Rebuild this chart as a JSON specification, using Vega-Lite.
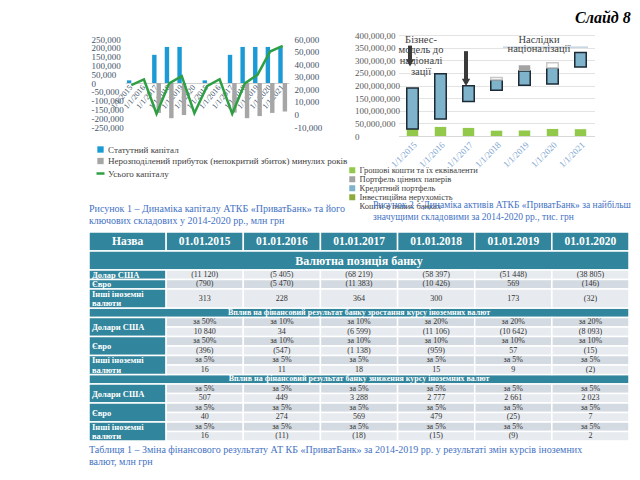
{
"$schema": "https://vega.github.io/schema/vega-lite/v6.json",
"background": "white",
"padding": {"left": 88, "top": 9, "right": 0, "bottom": 0},
"config": {"font": "Liberation Serif", "view": {"stroke": null}, "title": {"font": "Liberation Serif"}},
"title": {"text": "Слайд 8", "anchor": "end", "frame": "bounds", "orient": "top", "offset": 5.5, "fontSize": 16, "fontStyle": "italic", "fontWeight": "bold", "color": "#000000"},
"datasets": {
"L": [
{"k":"a1/1/2015","s":"Статутний капітал","v":15000},
{"k":"a1/1/2017","s":"Статутний капітал","v":160000},
{"k":"a1/1/2017","s":"Нерозподілений прибуток (непокритий збиток) минулих років","v":-170000},
{"k":"a1/1/2018","s":"Статутний капітал","v":205000},
{"k":"a1/1/2018","s":"Нерозподілений прибуток (непокритий збиток) минулих років","v":-200000},
{"k":"a1/1/2019","s":"Статутний капітал","v":205000},
{"k":"a1/1/2019","s":"Нерозподілений прибуток (непокритий збиток) минулих років","v":-182000},
{"k":"b1/1/2015","s":"Статутний капітал","v":15000},
{"k":"b1/1/2017","s":"Статутний капітал","v":160000},
{"k":"b1/1/2017","s":"Нерозподілений прибуток (непокритий збиток) минулих років","v":-168000},
{"k":"b1/1/2018","s":"Статутний капітал","v":205000},
{"k":"b1/1/2018","s":"Нерозподілений прибуток (непокритий збиток) минулих років","v":-200000},
{"k":"b1/1/2019","s":"Статутний капітал","v":205000},
{"k":"b1/1/2019","s":"Нерозподілений прибуток (непокритий збиток) минулих років","v":-188000},
{"k":"b1/1/2020","s":"Статутний капітал","v":205000},
{"k":"b1/1/2020","s":"Нерозподілений прибуток (непокритий збиток) минулих років","v":-170000},
{"k":"b1/1/2021","s":"Статутний капітал","v":205000},
{"k":"b1/1/2021","s":"Нерозподілений прибуток (непокритий збиток) минулих років","v":-162000},
{"k":"a1/1/2015","s":"Усього капіталу","v":23300},
{"k":"a1/1/2016","s":"Усього капіталу","v":27800},
{"k":"a1/1/2017","s":"Усього капіталу","v":500},
{"k":"a1/1/2018","s":"Усього капіталу","v":24700},
{"k":"a1/1/2019","s":"Усього капіталу","v":30500},
{"k":"a1/1/2020","s":"Усього капіталу","v":1000},
{"k":"b1/1/2015","s":"Усього капіталу","v":22500},
{"k":"b1/1/2016","s":"Усього капіталу","v":28000},
{"k":"b1/1/2017","s":"Усього капіталу","v":500},
{"k":"b1/1/2018","s":"Усього капіталу","v":24700},
{"k":"b1/1/2019","s":"Усього капіталу","v":31500},
{"k":"b1/1/2020","s":"Усього капіталу","v":50000},
{"k":"b1/1/2021","s":"Усього капіталу","v":54500}
],
"R": [
{"d":"1/1/2015","s":"Грошові кошти та їх еквіваленти","lo":0,"hi":28000000},
{"d":"1/1/2015","s":"Кредитний портфель","lo":28000000,"hi":190000000},
{"d":"1/1/2016","s":"Грошові кошти та їх еквіваленти","lo":0,"hi":36000000},
{"d":"1/1/2016","s":"Кредитний портфель","lo":67000000,"hi":247000000},
{"d":"1/1/2017","s":"Грошові кошти та їх еквіваленти","lo":0,"hi":32000000},
{"d":"1/1/2017","s":"Кредитний портфель","lo":137000000,"hi":199000000},
{"d":"1/1/2018","s":"Грошові кошти та їх еквіваленти","lo":0,"hi":21000000},
{"d":"1/1/2018","s":"Кредитний портфель","lo":181000000,"hi":223000000},
{"d":"1/1/2018","s":"Кошти в інших банках","lo":223000000,"hi":232000000},
{"d":"1/1/2019","s":"Грошові кошти та їх еквіваленти","lo":0,"hi":22000000},
{"d":"1/1/2019","s":"Кредитний портфель","lo":201000000,"hi":257000000},
{"d":"1/1/2019","s":"Портфель цінних паперів","lo":257000000,"hi":280000000},
{"d":"1/1/2020","s":"Грошові кошти та їх еквіваленти","lo":0,"hi":28000000},
{"d":"1/1/2020","s":"Кредитний портфель","lo":206000000,"hi":270000000},
{"d":"1/1/2020","s":"Кошти в інших банках","lo":270000000,"hi":290000000},
{"d":"1/1/2021","s":"Грошові кошти та їх еквіваленти","lo":0,"hi":27000000},
{"d":"1/1/2021","s":"Кредитний портфель","lo":273000000,"hi":331000000}
],
"AR": [
{"d":"1/1/2015","lo":358000000,"hi":290000000},
{"d":"1/1/2017","lo":336000000,"hi":212000000}
],
"AH": [
{"d":"1/1/2015","lo":290000000},
{"d":"1/1/2017","lo":212000000}
],
"AN": [
{"d":"1/1/2015","lo":401000000,"t":"Бізнес-\nмодель до\nнаціоналі\nзації"},
{"d":"1/1/2020","lo":401000000,"t":"Наслідки\nнаціоналізації"}
],
"BR": [
{"d":"1/1/2018","d2":"1/1/2021","lo":352000000}
],
"hdr": [
{"c":"Назва","r":"h1","r2":"h2","t":"Назва"},
{"c":"01.01.2015","r":"h1","r2":"h2","t":"01.01.2015"},
{"c":"01.01.2016","r":"h1","r2":"h2","t":"01.01.2016"},
{"c":"01.01.2017","r":"h1","r2":"h2","t":"01.01.2017"},
{"c":"01.01.2018","r":"h1","r2":"h2","t":"01.01.2018"},
{"c":"01.01.2019","r":"h1","r2":"h2","t":"01.01.2019"},
{"c":"01.01.2020","r":"h1","r2":"h2","t":"01.01.2020"}
],
"sec": [
{"r":"s1a","r2":"s1b","t":"Валютна позиція банку"},
{"r":"s2","r2":"s2","t":"Вплив на фінансовий результат банку зростання курсу іноземних валют"},
{"r":"s3","r2":"s3","t":"Вплив на фінансовий результат банку зниження курсу іноземних валют"}
],
"lab": [
{"c":"Назва","r":"usd","r2":"usd","t":"Долар США"},
{"c":"Назва","r":"eur","r2":"eur","t":"Євро"},
{"c":"Назва","r":"oa","r2":"ob","t":"Інші            іноземні\nвалюти"},
{"c":"Назва","r":"u2a","r2":"u2b","t":"Долари США"},
{"c":"Назва","r":"e2a","r2":"e2b","t":"Євро"},
{"c":"Назва","r":"o2a","r2":"o2b","t":"Інші            іноземні\nвалюти"},
{"c":"Назва","r":"u3a","r2":"u3b","t":"Долари США"},
{"c":"Назва","r":"e3a","r2":"e3b","t":"Євро"},
{"c":"Назва","r":"o3a","r2":"o3b","t":"Інші            іноземні\nвалюти"}
],
"cel": [
{"c":"01.01.2015","r":"usd","r2":"usd","t":"(11 120)"},
{"c":"01.01.2016","r":"usd","r2":"usd","t":"(5 405)"},
{"c":"01.01.2017","r":"usd","r2":"usd","t":"(68 219)"},
{"c":"01.01.2018","r":"usd","r2":"usd","t":"(58 397)"},
{"c":"01.01.2019","r":"usd","r2":"usd","t":"(51 448)"},
{"c":"01.01.2020","r":"usd","r2":"usd","t":"(38 805)"},
{"c":"01.01.2015","r":"eur","r2":"eur","t":"(790)"},
{"c":"01.01.2016","r":"eur","r2":"eur","t":"(5 470)"},
{"c":"01.01.2017","r":"eur","r2":"eur","t":"(11 383)"},
{"c":"01.01.2018","r":"eur","r2":"eur","t":"(10 426)"},
{"c":"01.01.2019","r":"eur","r2":"eur","t":"569"},
{"c":"01.01.2020","r":"eur","r2":"eur","t":"(146)"},
{"c":"01.01.2015","r":"oa","r2":"ob","t":"313"},
{"c":"01.01.2016","r":"oa","r2":"ob","t":"228"},
{"c":"01.01.2017","r":"oa","r2":"ob","t":"364"},
{"c":"01.01.2018","r":"oa","r2":"ob","t":"300"},
{"c":"01.01.2019","r":"oa","r2":"ob","t":"173"},
{"c":"01.01.2020","r":"oa","r2":"ob","t":"(32)"},
{"c":"01.01.2015","r":"u2a","r2":"u2a","t":"за 50%"},
{"c":"01.01.2016","r":"u2a","r2":"u2a","t":"за 10%"},
{"c":"01.01.2017","r":"u2a","r2":"u2a","t":"за 10%"},
{"c":"01.01.2018","r":"u2a","r2":"u2a","t":"за 20%"},
{"c":"01.01.2019","r":"u2a","r2":"u2a","t":"за 20%"},
{"c":"01.01.2020","r":"u2a","r2":"u2a","t":"за 20%"},
{"c":"01.01.2015","r":"u2b","r2":"u2b","t":"10 840"},
{"c":"01.01.2016","r":"u2b","r2":"u2b","t":"34"},
{"c":"01.01.2017","r":"u2b","r2":"u2b","t":"(6 599)"},
{"c":"01.01.2018","r":"u2b","r2":"u2b","t":"(11 106)"},
{"c":"01.01.2019","r":"u2b","r2":"u2b","t":"(10 642)"},
{"c":"01.01.2020","r":"u2b","r2":"u2b","t":"(8 093)"},
{"c":"01.01.2015","r":"e2a","r2":"e2a","t":"за 50%"},
{"c":"01.01.2016","r":"e2a","r2":"e2a","t":"за 10%"},
{"c":"01.01.2017","r":"e2a","r2":"e2a","t":"за 10%"},
{"c":"01.01.2018","r":"e2a","r2":"e2a","t":"за 10%"},
{"c":"01.01.2019","r":"e2a","r2":"e2a","t":"за 10%"},
{"c":"01.01.2020","r":"e2a","r2":"e2a","t":"за 10%"},
{"c":"01.01.2015","r":"e2b","r2":"e2b","t":"(396)"},
{"c":"01.01.2016","r":"e2b","r2":"e2b","t":"(547)"},
{"c":"01.01.2017","r":"e2b","r2":"e2b","t":"(1 138)"},
{"c":"01.01.2018","r":"e2b","r2":"e2b","t":"(959)"},
{"c":"01.01.2019","r":"e2b","r2":"e2b","t":"57"},
{"c":"01.01.2020","r":"e2b","r2":"e2b","t":"(15)"},
{"c":"01.01.2015","r":"o2a","r2":"o2a","t":"за 5%"},
{"c":"01.01.2016","r":"o2a","r2":"o2a","t":"за 5%"},
{"c":"01.01.2017","r":"o2a","r2":"o2a","t":"за 5%"},
{"c":"01.01.2018","r":"o2a","r2":"o2a","t":"за 5%"},
{"c":"01.01.2019","r":"o2a","r2":"o2a","t":"за 5%"},
{"c":"01.01.2020","r":"o2a","r2":"o2a","t":"за 5%"},
{"c":"01.01.2015","r":"o2b","r2":"o2b","t":"16"},
{"c":"01.01.2016","r":"o2b","r2":"o2b","t":"11"},
{"c":"01.01.2017","r":"o2b","r2":"o2b","t":"18"},
{"c":"01.01.2018","r":"o2b","r2":"o2b","t":"15"},
{"c":"01.01.2019","r":"o2b","r2":"o2b","t":"9"},
{"c":"01.01.2020","r":"o2b","r2":"o2b","t":"(2)"},
{"c":"01.01.2015","r":"u3a","r2":"u3a","t":"за 5%"},
{"c":"01.01.2016","r":"u3a","r2":"u3a","t":"за 5%"},
{"c":"01.01.2017","r":"u3a","r2":"u3a","t":"за 5%"},
{"c":"01.01.2018","r":"u3a","r2":"u3a","t":"за 5%"},
{"c":"01.01.2019","r":"u3a","r2":"u3a","t":"за 5%"},
{"c":"01.01.2020","r":"u3a","r2":"u3a","t":"за 5%"},
{"c":"01.01.2015","r":"u3b","r2":"u3b","t":"507"},
{"c":"01.01.2016","r":"u3b","r2":"u3b","t":"449"},
{"c":"01.01.2017","r":"u3b","r2":"u3b","t":"3 288"},
{"c":"01.01.2018","r":"u3b","r2":"u3b","t":"2 777"},
{"c":"01.01.2019","r":"u3b","r2":"u3b","t":"2 661"},
{"c":"01.01.2020","r":"u3b","r2":"u3b","t":"2 023"},
{"c":"01.01.2015","r":"e3a","r2":"e3a","t":"за 5%"},
{"c":"01.01.2016","r":"e3a","r2":"e3a","t":"за 5%"},
{"c":"01.01.2017","r":"e3a","r2":"e3a","t":"за 5%"},
{"c":"01.01.2018","r":"e3a","r2":"e3a","t":"за 5%"},
{"c":"01.01.2019","r":"e3a","r2":"e3a","t":"за 5%"},
{"c":"01.01.2020","r":"e3a","r2":"e3a","t":"за 5%"},
{"c":"01.01.2015","r":"e3b","r2":"e3b","t":"40"},
{"c":"01.01.2016","r":"e3b","r2":"e3b","t":"274"},
{"c":"01.01.2017","r":"e3b","r2":"e3b","t":"569"},
{"c":"01.01.2018","r":"e3b","r2":"e3b","t":"479"},
{"c":"01.01.2019","r":"e3b","r2":"e3b","t":"(25)"},
{"c":"01.01.2020","r":"e3b","r2":"e3b","t":"7"},
{"c":"01.01.2015","r":"o3a","r2":"o3a","t":"за 5%"},
{"c":"01.01.2016","r":"o3a","r2":"o3a","t":"за 5%"},
{"c":"01.01.2017","r":"o3a","r2":"o3a","t":"за 5%"},
{"c":"01.01.2018","r":"o3a","r2":"o3a","t":"за 5%"},
{"c":"01.01.2019","r":"o3a","r2":"o3a","t":"за 5%"},
{"c":"01.01.2020","r":"o3a","r2":"o3a","t":"за 5%"},
{"c":"01.01.2015","r":"o3b","r2":"o3b","t":"16"},
{"c":"01.01.2016","r":"o3b","r2":"o3b","t":"(11)"},
{"c":"01.01.2017","r":"o3b","r2":"o3b","t":"(18)"},
{"c":"01.01.2018","r":"o3b","r2":"o3b","t":"(15)"},
{"c":"01.01.2019","r":"o3b","r2":"o3b","t":"(9)"},
{"c":"01.01.2020","r":"o3b","r2":"o3b","t":"2"}
]
},
"bounds": "flush",
"spacing": 197,
"resolve": {"scale": {"color": "independent"}, "legend": {"color": "independent"}},
"vconcat": [
{
"bounds": "flush",
"spacing": 109.5,
"resolve": {"scale": {"color": "independent", "stroke": "independent"}, "legend": {"color": "independent"}},
"hconcat": [
{
"width": 200, "height": 101,
"data": {"name": "L"},
"title": {"text": ["Рисунок 1 – Динаміка капіталу АТКБ «ПриватБанк» та його", "ключових складових у 2014-2020 рр., млн грн"], "orient": "bottom", "anchor": "start", "frame": "group", "offset": 25, "fontSize": 10, "fontWeight": "normal", "color": "#4472c4", "lineHeight": 11.5},
"encoding": {
"x": {"field": "k", "type": "nominal", "scale": {"domain": ["a1/1/2015","a1/1/2016","a1/1/2017","a1/1/2018","a1/1/2019","a1/1/2020","b1/1/2015","b1/1/2016","b1/1/2017","b1/1/2018","b1/1/2019","b1/1/2020","b1/1/2021"], "range": [36, 200], "paddingInner": 0.3, "paddingOuter": 0.15}, "axis": {"title": null, "labelExpr": "substring(datum.value, 1)", "labelAngle": -50, "labelAlign": "right", "labelBaseline": "middle", "offset": -53, "ticks": false, "domainColor": "#d0d0d0", "labelFontSize": 8, "labelColor": "#44546a", "labelPadding": 3, "labelOverlap": false}}
},
"layer": [
{
"transform": [{"filter": "datum.s != 'Усього капіталу'"}],
"mark": {"type": "bar"},
"encoding": {
"xOffset": {"field": "s", "type": "nominal", "scale": {"domain": ["Статутний капітал", "Нерозподілений прибуток (непокритий збиток) минулих років"]}},
"y": {"field": "v", "type": "quantitative", "scale": {"domain": [-250000, 250000], "range": [92, 4], "nice": false, "zero": false}, "axis": {"orient": "left", "offset": -36, "values": [-250000,-200000,-150000,-100000,-50000,0,50000,100000,150000,200000,250000], "labelExpr": "replace(format(datum.value, ','), '−', '-')", "labelOverlap": false, "grid": false, "domain": false, "ticks": false, "labelFontSize": 9, "labelColor": "#44546a", "labelAlign": "left", "labelPadding": 34, "title": null}},
"color": {"field": "s", "type": "nominal", "scale": {"domain": ["Статутний капітал", "Нерозподілений прибуток (непокритий збиток) минулих років", "Усього капіталу"], "range": ["#1b9ad6", "#a6a6a6", "#2ea043"]},
"legend": {"orient": "none", "legendX": 7, "legendY": 110, "title": null, "labelFontSize": 9, "labelColor": "#404040", "labelLimit": 300, "rowPadding": 1.5, "labelOffset": 3, "symbolType": "square", "symbolSize": 40, "symbolStrokeWidth": 0,
"encode": {"symbols": {"update": {
"shape": {"signal": "datum.value == 'Усього капіталу' ? 'stroke' : 'square'"},
"fill": {"signal": "datum.value == 'Статутний капітал' ? '#1b9ad6' : datum.value == 'Усього капіталу' ? 'transparent' : '#a6a6a6'"},
"stroke": {"signal": "datum.value == 'Усього капіталу' ? '#2ea043' : 'transparent'"},
"strokeWidth": {"signal": "datum.value == 'Усього капіталу' ? 2.5 : 0"},
"size": {"signal": "datum.value == 'Усього капіталу' ? 64 : 40"}}}}}}
}
},
{
"transform": [{"filter": "datum.s == 'Усього капіталу'"}],
"mark": {"type": "line", "strokeWidth": 2.5},
"encoding": {
"y": {"field": "v", "type": "quantitative", "scale": {"domain": [-10000, 60000], "range": [92, 4], "nice": false, "zero": false}, "axis": {"orient": "right", "values": [-10000,0,10000,20000,30000,40000,50000,60000], "labelExpr": "replace(format(datum.value, ','), '−', '-')", "labelOverlap": false, "grid": false, "domain": false, "ticks": false, "labelFontSize": 9, "labelColor": "#44546a", "labelPadding": 5, "title": null}},
"color": {"field": "s", "type": "nominal", "scale": {"domain": ["Статутний капітал", "Нерозподілений прибуток (непокритий збиток) минулих років", "Усього капіталу"], "range": ["#1b9ad6", "#a6a6a6", "#2ea043"]}, "legend": null}
}
}
],
"resolve": {"scale": {"y": "independent"}}
},
{
"width": 196, "height": 101,
"title": {"text": ["Рисунок 2 – Динаміка активів АТКБ «ПриватБанк» за найбільш", "значущими складовими за 2014-2020 рр., тис. грн"], "orient": "bottom", "anchor": "start", "frame": "group", "dx": -25.5, "offset": -11, "fontSize": 9.5, "fontWeight": "normal", "color": "#4472c4", "lineHeight": 11.5},
"encoding": {
"x": {"field": "d", "type": "nominal", "scale": {"domain": ["1/1/2015","1/1/2016","1/1/2017","1/1/2018","1/1/2019","1/1/2020","1/1/2021"], "paddingInner": 0.59, "paddingOuter": 0.295}, "axis": {"title": null, "labelAngle": -45, "labelFontSize": 9, "labelColor": "#7fa7d1", "ticks": false, "domainColor": "#d9d9d9", "labelPadding": 4}},
"y": {"field": "lo", "type": "quantitative", "scale": {"domain": [0, 400000000], "nice": false}, "axis": {"title": null, "values": [0,50000000,100000000,150000000,200000000,250000000,300000000,350000000,400000000], "labelExpr": "datum.value >= 250000000 ? slice(format(datum.value, ','), 0, -1) : format(datum.value, ',')", "labelOverlap": false, "grid": true, "gridColor": "#e3e3e3", "domain": false, "ticks": false, "labelFontSize": 9, "labelColor": "#595959", "labelAlign": "left", "labelPadding": 44}}
},
"layer": [
{
"data": {"name": "R"},
"mark": {"type": "bar", "strokeWidth": 1.5},
"encoding": {
"y2": {"field": "hi"},
"color": {"field": "s", "type": "nominal", "scale": {"domain": ["Грошові кошти та їх еквіваленти", "Портфель цінних паперів", "Кредитний портфель", "Інвестиційна нерухомість", "Кошти в інших банках"], "range": ["#92c94a", "#a3a3a3", "#7fb2cb", "#8faa3c", "#ffffff"]},
"legend": {"orient": "none", "legendX": -50.5, "legendY": 131, "title": null, "labelFontSize": 8.5, "labelColor": "#404040", "labelLimit": 300, "rowPadding": -1, "labelOffset": 3, "symbolType": "square", "symbolSize": 36,
"encode": {"symbols": {"update": {
"stroke": {"signal": "datum.value == 'Кредитний портфель' || datum.value == 'Інвестиційна нерухомість' ? '#1d2b36' : datum.value == 'Кошти в інших банках' ? '#bbbbbb' : 'transparent'"},
"strokeWidth": {"value": 1.5},
"opacity": {"signal": "datum.value == 'Портфель цінних паперів' ? 0 : 1"}}}}}},
"stroke": {"condition": [{"test": "datum.s == 'Кредитний портфель'", "value": "#1d2b36"}, {"test": "datum.s == 'Кошти в інших банках'", "value": "#c8c8c8"}], "value": null}
}
},
{
"data": {"name": "AR"},
"mark": {"type": "rule", "strokeWidth": 4, "color": "#3a3a3a", "xOffset": -2.5},
"encoding": {
"y2": {"field": "hi"}
}
},
{
"data": {"name": "AH"},
"mark": {"type": "point", "shape": "triangle-down", "filled": true, "size": 70, "color": "#3a3a3a", "opacity": 1, "xOffset": -2.5},
"encoding": {}
},
{
"data": {"name": "BR"},
"mark": {"type": "rule", "color": "#a9bccf", "strokeWidth": 1, "xOffset": 6.5, "x2Offset": 7.5},
"encoding": {
"x2": {"field": "d2", "bandPosition": 0.5}
}
},
{
"data": {"name": "AN"},
"transform": [{"filter": "datum.d == '1/1/2015'"}],
"mark": {"type": "text", "fontSize": 10.5, "color": "#404040", "lineBreak": "\n", "lineHeight": 10.7, "baseline": "top", "align": "center", "dx": 8.5},
"encoding": {
"text": {"field": "t"}
}
},
{
"data": {"name": "AN"},
"transform": [{"filter": "datum.d == '1/1/2020'"}],
"mark": {"type": "text", "fontSize": 10.5, "color": "#404040", "lineBreak": "\n", "lineHeight": 9.5, "baseline": "top", "align": "center", "dx": -13.5},
"encoding": {
"text": {"field": "t"}
}
}
]
}
]
},
{
"width": 540, "height": 209,
"title": {"text": ["Таблиця 1 – Зміна фінансового результату АТ КБ «ПриватБанк» за 2014-2019 рр. у результаті змін курсів іноземних", "валют, млн грн"], "orient": "bottom", "anchor": "start", "frame": "group", "offset": 3, "fontSize": 10, "fontWeight": "normal", "color": "#4472c4", "lineHeight": 12},
"layer": [
{
"data": {"name": "hdr"},
"mark": {"type": "rect", "color": "#31859c", "stroke": "white", "strokeWidth": 1.5},
"encoding": {
"x": {"field": "c", "type": "nominal", "scale": {"domain": ["Назва","01.01.2015","01.01.2016","01.01.2017","01.01.2018","01.01.2019","01.01.2020"], "paddingInner": 0, "paddingOuter": 0}, "axis": null},
"y": {"field": "r", "type": "nominal", "bandPosition": 0, "scale": {"domain": ["h1","h2","s1a","s1b","usd","eur","oa","ob","s2","u2a","u2b","e2a","e2b","o2a","o2b","s3","u3a","u3b","e3a","e3b","o3a","o3b"], "paddingInner": 0, "paddingOuter": 0}, "axis": null},
"y2": {"field": "r2", "bandPosition": 1}
}
},
{
"data": {"name": "sec"},
"mark": {"type": "rect", "color": "#31859c", "stroke": "white", "strokeWidth": 1.5},
"encoding": {
"y": {"field": "r", "type": "nominal", "bandPosition": 0, "scale": {"domain": ["h1","h2","s1a","s1b","usd","eur","oa","ob","s2","u2a","u2b","e2a","e2b","o2a","o2b","s3","u3a","u3b","e3a","e3b","o3a","o3b"], "paddingInner": 0, "paddingOuter": 0}, "axis": null},
"y2": {"field": "r2", "bandPosition": 1}
}
},
{
"data": {"name": "lab"},
"mark": {"type": "rect", "color": "#31859c", "stroke": "white", "strokeWidth": 1.5},
"encoding": {
"x": {"field": "c", "type": "nominal", "scale": {"domain": ["Назва","01.01.2015","01.01.2016","01.01.2017","01.01.2018","01.01.2019","01.01.2020"], "paddingInner": 0, "paddingOuter": 0}, "axis": null},
"y": {"field": "r", "type": "nominal", "bandPosition": 0, "scale": {"domain": ["h1","h2","s1a","s1b","usd","eur","oa","ob","s2","u2a","u2b","e2a","e2b","o2a","o2b","s3","u3a","u3b","e3a","e3b","o3a","o3b"], "paddingInner": 0, "paddingOuter": 0}, "axis": null},
"y2": {"field": "r2", "bandPosition": 1}
}
},
{
"data": {"name": "cel"},
"mark": {"type": "rect", "stroke": "white", "strokeWidth": 1.5},
"encoding": {
"x": {"field": "c", "type": "nominal", "scale": {"domain": ["Назва","01.01.2015","01.01.2016","01.01.2017","01.01.2018","01.01.2019","01.01.2020"], "paddingInner": 0, "paddingOuter": 0}, "axis": null},
"y": {"field": "r", "type": "nominal", "bandPosition": 0, "scale": {"domain": ["h1","h2","s1a","s1b","usd","eur","oa","ob","s2","u2a","u2b","e2a","e2b","o2a","o2b","s3","u3a","u3b","e3a","e3b","o3a","o3b"], "paddingInner": 0, "paddingOuter": 0}, "axis": null},
"y2": {"field": "r2", "bandPosition": 1},
"color": {"condition": {"test": "indexof(['eur','u2a','e2a','o2a','u3a','e3a','o3a'], datum.r) >= 0", "value": "#d3dae1"}, "value": "#e7ebef"}
}
},
{
"data": {"name": "hdr"},
"mark": {"type": "text", "fontSize": 11.5, "fontWeight": "bold", "color": "white", "baseline": "middle"},
"encoding": {
"x": {"field": "c", "type": "nominal", "scale": {"domain": ["Назва","01.01.2015","01.01.2016","01.01.2017","01.01.2018","01.01.2019","01.01.2020"], "paddingInner": 0, "paddingOuter": 0}, "axis": null},
"y": {"field": "r", "type": "nominal", "bandPosition": 1, "scale": {"domain": ["h1","h2","s1a","s1b","usd","eur","oa","ob","s2","u2a","u2b","e2a","e2b","o2a","o2b","s3","u3a","u3b","e3a","e3b","o3a","o3b"], "paddingInner": 0, "paddingOuter": 0}, "axis": null},
"text": {"field": "t"}
}
},
{
"data": {"name": "sec"},
"transform": [{"filter": "datum.r == 's1a'"}],
"mark": {"type": "text", "fontSize": 12, "fontWeight": "bold", "color": "white", "baseline": "middle"},
"encoding": {
"y": {"field": "r", "type": "nominal", "bandPosition": 1, "scale": {"domain": ["h1","h2","s1a","s1b","usd","eur","oa","ob","s2","u2a","u2b","e2a","e2b","o2a","o2b","s3","u3a","u3b","e3a","e3b","o3a","o3b"], "paddingInner": 0, "paddingOuter": 0}, "axis": null},
"text": {"field": "t"}
}
},
{
"data": {"name": "sec"},
"transform": [{"filter": "datum.r != 's1a'"}],
"mark": {"type": "text", "fontSize": 8, "fontWeight": "bold", "color": "white", "baseline": "middle"},
"encoding": {
"y": {"field": "r", "type": "nominal", "scale": {"domain": ["h1","h2","s1a","s1b","usd","eur","oa","ob","s2","u2a","u2b","e2a","e2b","o2a","o2b","s3","u3a","u3b","e3a","e3b","o3a","o3b"], "paddingInner": 0, "paddingOuter": 0}, "axis": null},
"text": {"field": "t"}
}
},
{
"data": {"name": "lab"},
"transform": [{"filter": "datum.r == datum.r2 || indexof(datum.t, 'валюти') >= 0"}],
"mark": {"type": "text", "fontSize": 8.5, "fontWeight": "bold", "color": "white", "baseline": "middle", "align": "left", "dx": 3, "lineBreak": "\n", "lineHeight": 9.5},
"encoding": {
"x": {"field": "c", "type": "nominal", "bandPosition": 0, "scale": {"domain": ["Назва","01.01.2015","01.01.2016","01.01.2017","01.01.2018","01.01.2019","01.01.2020"], "paddingInner": 0, "paddingOuter": 0}, "axis": null},
"y": {"field": "r", "type": "nominal", "scale": {"domain": ["h1","h2","s1a","s1b","usd","eur","oa","ob","s2","u2a","u2b","e2a","e2b","o2a","o2b","s3","u3a","u3b","e3a","e3b","o3a","o3b"], "paddingInner": 0, "paddingOuter": 0}, "axis": null},
"text": {"field": "t"}
}
},
{
"data": {"name": "lab"},
"transform": [{"filter": "datum.r != datum.r2 && indexof(datum.t, 'валюти') < 0"}],
"mark": {"type": "text", "fontSize": 8.5, "fontWeight": "bold", "color": "white", "baseline": "middle", "align": "left", "dx": 3},
"encoding": {
"x": {"field": "c", "type": "nominal", "bandPosition": 0, "scale": {"domain": ["Назва","01.01.2015","01.01.2016","01.01.2017","01.01.2018","01.01.2019","01.01.2020"], "paddingInner": 0, "paddingOuter": 0}, "axis": null},
"y": {"field": "r", "type": "nominal", "bandPosition": 1, "scale": {"domain": ["h1","h2","s1a","s1b","usd","eur","oa","ob","s2","u2a","u2b","e2a","e2b","o2a","o2b","s3","u3a","u3b","e3a","e3b","o3a","o3b"], "paddingInner": 0, "paddingOuter": 0}, "axis": null},
"text": {"field": "t"}
}
},
{
"data": {"name": "cel"},
"transform": [{"filter": "datum.r == datum.r2"}],
"mark": {"type": "text", "fontSize": 8, "color": "#333333", "baseline": "middle"},
"encoding": {
"x": {"field": "c", "type": "nominal", "scale": {"domain": ["Назва","01.01.2015","01.01.2016","01.01.2017","01.01.2018","01.01.2019","01.01.2020"], "paddingInner": 0, "paddingOuter": 0}, "axis": null},
"y": {"field": "r", "type": "nominal", "scale": {"domain": ["h1","h2","s1a","s1b","usd","eur","oa","ob","s2","u2a","u2b","e2a","e2b","o2a","o2b","s3","u3a","u3b","e3a","e3b","o3a","o3b"], "paddingInner": 0, "paddingOuter": 0}, "axis": null},
"text": {"field": "t"}
}
},
{
"data": {"name": "cel"},
"transform": [{"filter": "datum.r != datum.r2"}],
"mark": {"type": "text", "fontSize": 8, "color": "#333333", "baseline": "middle"},
"encoding": {
"x": {"field": "c", "type": "nominal", "scale": {"domain": ["Назва","01.01.2015","01.01.2016","01.01.2017","01.01.2018","01.01.2019","01.01.2020"], "paddingInner": 0, "paddingOuter": 0}, "axis": null},
"y": {"field": "r", "type": "nominal", "bandPosition": 1, "scale": {"domain": ["h1","h2","s1a","s1b","usd","eur","oa","ob","s2","u2a","u2b","e2a","e2b","o2a","o2b","s3","u3a","u3b","e3a","e3b","o3a","o3b"], "paddingInner": 0, "paddingOuter": 0}, "axis": null},
"text": {"field": "t"}
}
}
]
}
]
}
